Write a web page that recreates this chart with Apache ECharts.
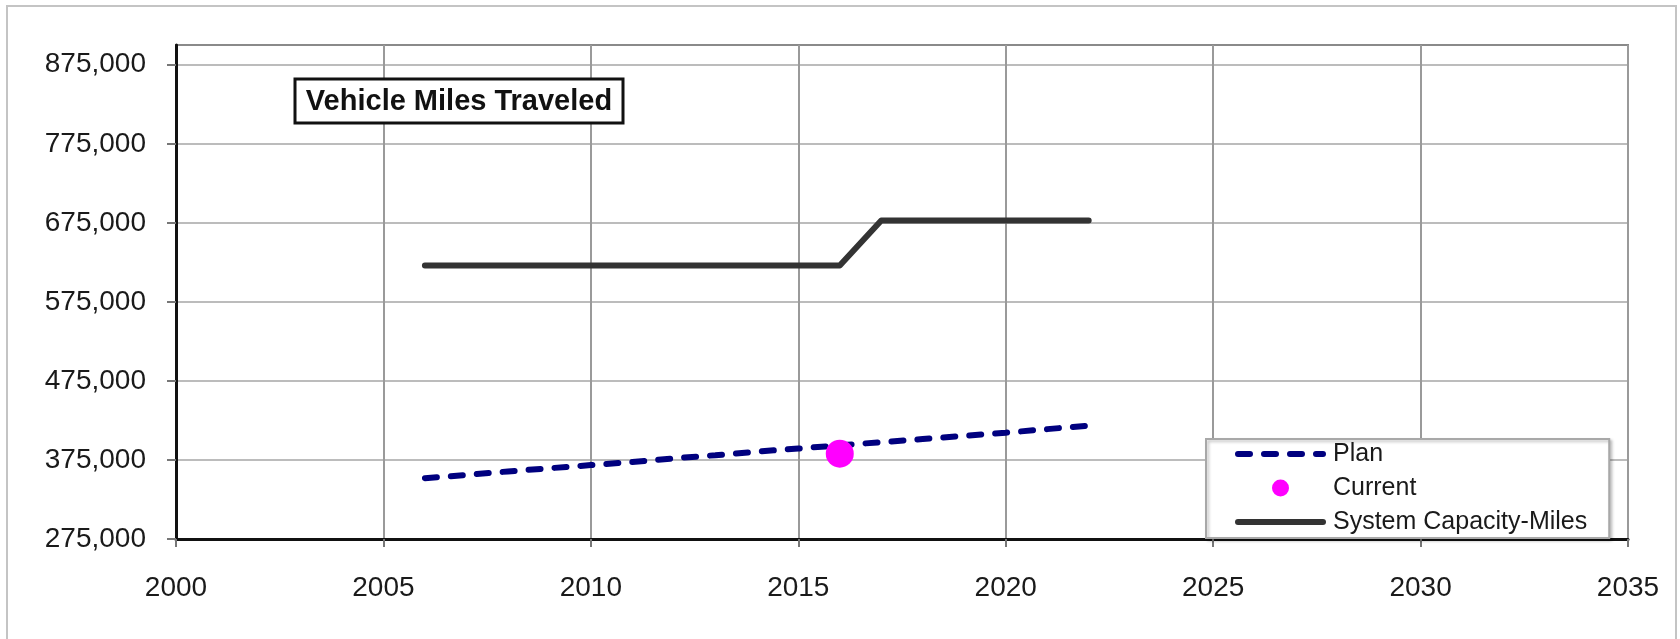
<!DOCTYPE html>
<html>
<head>
<meta charset="utf-8">
<title>Vehicle Miles Traveled</title>
<script src="https://cdn.jsdelivr.net/npm/echarts@6/dist/echarts.min.js"></script>
<style>
  html, body { margin: 0; padding: 0; background: #fff; }
  #main { width: 1680px; height: 639px; }
</style>
</head>
<body>
<div id="main"></div>
<script>
// 数据
var planYears = [2006, 2007, 2008, 2009, 2010, 2011, 2012, 2013, 2014, 2015, 2016, 2017, 2018, 2019, 2020, 2021, 2022];
var planValues = [352000, 356000, 360500, 364500, 368500, 372500, 377000, 381000, 385500, 389500, 393500, 397500, 401500, 405500, 409500, 414000, 418500];
var capacityYears = [2006, 2016, 2017, 2022];
var capacityValues = [621000, 621000, 678000, 678000];
var currentYears = [2016];
var currentValues = [383000];
var yTicks = [275000, 375000, 475000, 575000, 675000, 775000, 875000];
var xTicks = [2000, 2005, 2010, 2015, 2020, 2025, 2030, 2035];

function pairs(xs, ys) {
  return xs.map(function (x, i) { return [x, ys[i]]; });
}

var chart = echarts.init(document.getElementById('main'));
var font = '"Liberation Sans", Arial, sans-serif';

chart.setOption({
  animation: false,
  backgroundColor: '#fff',
  textStyle: { fontFamily: font },
  grid: {
    left: 176, right: 52, top: 45, bottom: 100,
    show: true, borderColor: '#8a8a8a', borderWidth: 2,
    outerBoundsMode: 'none'
  },
  // 标题框和外框
  graphic: [
    {
      type: 'rect', silent: true, z: -1,
      shape: { x: 7, y: 6, width: 1669, height: 650 },
      style: { fill: 'none', stroke: '#c4c4c4', lineWidth: 2 }
    },
    {
      type: 'rect', z: 10,
      shape: { x: 295, y: 79, width: 328, height: 44 },
      style: { fill: '#fff', stroke: '#111', lineWidth: 3 }
    },
    {
      type: 'text', z: 11, x: 459, y: 102,
      style: {
        text: 'Vehicle Miles Traveled', fill: '#111',
        font: 'bold 29px ' + font, align: 'center', verticalAlign: 'middle'
      }
    }
  ],
  legend: {
    orient: 'vertical',
    left: 1206, top: 439,
    padding: [2, 22, 3, 29],
    itemWidth: 85, itemHeight: 17, itemGap: 8,
    backgroundColor: '#fff',
    borderColor: '#a8a8a8', borderWidth: 2,
    shadowColor: 'rgba(0,0,0,0.25)', shadowBlur: 3, shadowOffsetX: 2, shadowOffsetY: 2,
    lineStyle: { width: 6 },
    textStyle: { fontSize: 25, color: '#1a1a1a', lineHeight: 26, padding: [0, 0, 0, 5] },
    data: [
      { name: 'Plan', itemStyle: { opacity: 0 } },
      { name: 'Current' },
      { name: 'System Capacity-Miles', itemStyle: { opacity: 0 } }
    ]
  },
  xAxis: {
    type: 'value', min: 2000, max: 2035, interval: 5,
    axisLine: { show: true, onZero: false, lineStyle: { color: '#111', width: 3 } },
    axisTick: { show: true, length: 8, customValues: xTicks, lineStyle: { color: '#777', width: 2 } },
    axisLabel: {
      customValues: xTicks, margin: 35, fontSize: 28, color: '#1a1a1a',
      formatter: function (v) { return String(v); }
    },
    splitLine: { show: true, lineStyle: { color: '#9a9a9a', width: 2 } }
  },
  yAxis: {
    type: 'value', min: 275000, max: 900000,
    axisLine: { show: true, onZero: false, lineStyle: { color: '#111', width: 3 } },
    axisTick: { show: true, length: 9, customValues: yTicks, lineStyle: { color: '#777', width: 2 } },
    axisLabel: {
      customValues: yTicks, margin: 30, fontSize: 28, color: '#1a1a1a',
      formatter: function (v) { return v.toLocaleString('en-US'); }
    },
    splitLine: { show: true, lineStyle: { color: '#bcbcbc', width: 2 } }
  },
  series: [
    {
      name: 'Plan', type: 'line', symbol: 'none', z: 3,
      data: pairs(planYears, planValues),
      lineStyle: { color: '#00007f', width: 6, type: [12, 14], cap: 'round' },
      itemStyle: { color: '#00007f' }
    },
    {
      name: 'Current', type: 'scatter', symbol: 'circle', symbolSize: 28, z: 4,
      data: pairs(currentYears, currentValues),
      itemStyle: { color: '#ff00ff', opacity: 1 }
    },
    {
      name: 'System Capacity-Miles', type: 'line', symbol: 'none', z: 3,
      data: pairs(capacityYears, capacityValues),
      lineStyle: { color: '#333333', width: 6, cap: 'round', join: 'round' },
      itemStyle: { color: '#333333' }
    }
  ]
});
</script>
</body>
</html>
